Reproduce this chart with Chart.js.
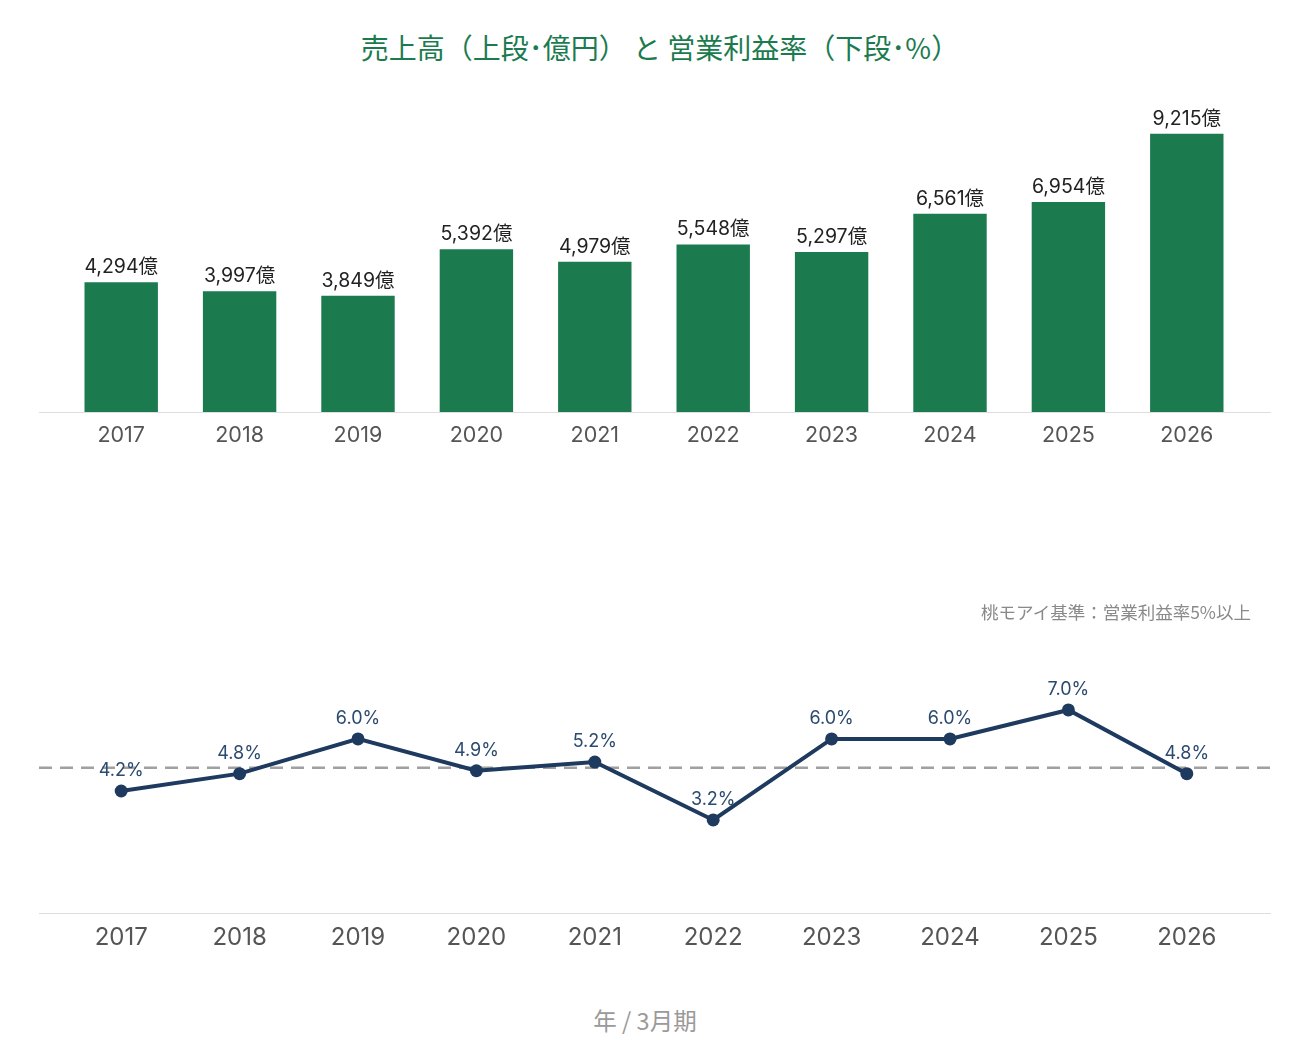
<!DOCTYPE html>
<html><head><meta charset="utf-8">
<script src="https://cdn.jsdelivr.net/npm/chart.js@4/dist/chart.umd.min.js"></script>
<style>
html,body{margin:0;padding:0;background:#fff;}
#wrap{position:relative;width:1290px;height:1050px;overflow:hidden;font-family:"Noto Sans CJK JP",sans-serif;}
#title{position:absolute;left:15px;width:1290px;top:27px;text-align:center;font-size:28px;color:#1b7b4f;line-height:40px;white-space:nowrap;}
#note{position:absolute;right:39px;top:599px;font-size:17.5px;color:#8a8a8a;line-height:26px;white-space:nowrap;}
#foot{position:absolute;left:0;width:1290px;top:1003px;text-align:center;font-size:23.5px;color:#9a9a9a;line-height:34px;}
canvas{position:absolute;left:0;}
#c1{top:0;}
#c2{top:480px;}
</style></head>
<body><div id="wrap">
<div id="title">売上高（上段･億円） と 営業利益率（下段･%）</div>
<canvas id="c1" width="1290" height="470"></canvas>
<canvas id="c2" width="1290" height="520"></canvas>
<div id="note">桃モアイ基準：営業利益率5%以上</div>
<div id="foot">年 / 3月期</div>
</div>
<script>
const years = ["2017","2018","2019","2020","2021","2022","2023","2024","2025","2026"];
const sales = [4294,3997,3849,5392,4979,5548,5297,6561,6954,9215];
const margin = [4.2,4.8,6.0,4.9,5.2,3.2,6.0,6.0,7.0,4.8];
const threshold = 5;

const FONT = 'Inter,"Noto Sans CJK JP",sans-serif';

const axisLine = {
  id:'axisLine',
  afterDraw(chart){
    const ctx=chart.ctx, y=chart.chartArea.bottom;
    ctx.save();ctx.strokeStyle='#dedede';ctx.lineWidth=1;
    ctx.beginPath();ctx.moveTo(39,Math.round(y)+0.5);ctx.lineTo(1271,Math.round(y)+0.5);ctx.stroke();ctx.restore();
  }
};

const barLabels = {
  id:'barLabels',
  afterDatasetsDraw(chart){
    const ctx=chart.ctx; const meta=chart.getDatasetMeta(0);
    ctx.save();ctx.font='19.5px '+FONT;ctx.fillStyle='#222';ctx.textAlign='center';ctx.textBaseline='alphabetic';
    meta.data.forEach((el,i)=>{
      ctx.fillText(sales[i].toLocaleString('en-US')+'億', el.x, el.y-9);
    });
    ctx.restore();
  }
};

new Chart(document.getElementById('c1'),{
  type:'bar',
  data:{labels:years,datasets:[{data:sales,backgroundColor:'#1b7b4f',barPercentage:0.62,categoryPercentage:1.0}]},
  options:{
    responsive:false,animation:false,devicePixelRatio:1,
    layout:{padding:{left:62,right:44,top:110,bottom:0}},
    plugins:{legend:{display:false},tooltip:{enabled:false}},
    scales:{
      x:{grid:{display:false,drawTicks:false},border:{display:false},
         ticks:{color:'#555',font:{family:FONT,size:21.5},padding:11},
         afterFit(s){s.height=58;}},
      y:{display:false,min:0,max:10000}
    }
  },
  plugins:[axisLine,barLabels]
});

const dashLine = {
  id:'dashLine',
  beforeDatasetsDraw(chart){
    const ctx=chart.ctx; const y=chart.scales.y.getPixelForValue(threshold);
    ctx.save();ctx.strokeStyle='#a0a0a0';ctx.lineWidth=2.5;ctx.setLineDash([13,8]);
    ctx.beginPath();ctx.moveTo(39,y);ctx.lineTo(1271,y);ctx.stroke();ctx.restore();
  }
};
const pointLabels = {
  id:'pointLabels',
  afterDatasetsDraw(chart){
    const ctx=chart.ctx; const meta=chart.getDatasetMeta(0);
    ctx.save();ctx.font='18px '+FONT;ctx.fillStyle='#2b4a6f';ctx.textAlign='center';ctx.textBaseline='middle';
    meta.data.forEach((el,i)=>{
      ctx.fillText(margin[i].toFixed(1)+'%', el.x, el.y-20);
    });
    ctx.restore();
  }
};

new Chart(document.getElementById('c2'),{
  type:'line',
  data:{labels:years,datasets:[{data:margin,borderColor:'#1f3a5f',borderWidth:4,pointRadius:6.5,pointBackgroundColor:'#1f3a5f',pointBorderWidth:0,tension:0}]},
  options:{
    responsive:false,animation:false,devicePixelRatio:1,
    layout:{padding:{left:62,right:44,top:201,bottom:0}},
    plugins:{legend:{display:false},tooltip:{enabled:false}},
    scales:{
      x:{offset:true,grid:{display:false,drawTicks:false},border:{display:false},
         ticks:{color:'#555',font:{family:FONT,size:24},padding:11},
         afterFit(s){s.height=87.4;}},
      y:{display:false,min:0,max:8}
    }
  },
  plugins:[axisLine,dashLine,pointLabels]
});
</script>
</body></html>
